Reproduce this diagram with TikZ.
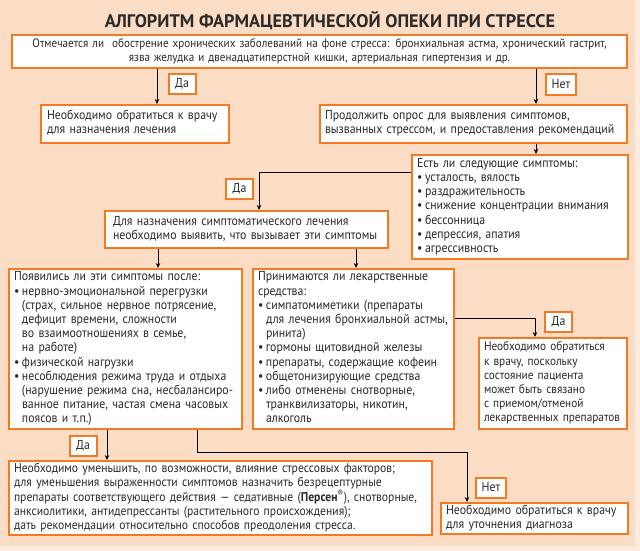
\documentclass[tikz,border=0pt]{standalone}
\usepackage{fontspec}
\setmainfont[FakeStretch=0.91]{PT Sans}
\newfontfamily\titlef{PT Sans}
\usetikzlibrary{arrows.meta,calc}
\definecolor{peach}{HTML}{FBDCC4}
\definecolor{outerc}{HTML}{FCEBDF}
\definecolor{orng}{HTML}{F47920}
\definecolor{ink}{HTML}{2A2A2A}
\newcommand{\bu}{\makebox[8pt][l]{•}}
\newcommand{\ind}{\hspace*{8pt}}
\newcommand{\tbl}[1]{\begin{tabular}{@{}l@{}}#1\end{tabular}}
\newcommand{\tbc}[1]{\begin{tabular}{@{}c@{}}#1\end{tabular}}
\begin{document}
\begin{tikzpicture}[x=1pt,y=-1pt,
  box/.style={draw=orng, line width=2pt, fill=white, inner xsep=5pt, inner ysep=1pt,
    font=\fontsize{13}{14.2}\selectfont, text=ink, align=left},
  lbl/.style={draw=orng, line width=2pt, fill=white, minimum height=20pt, inner sep=0pt,
    font=\fontsize{13}{14}\selectfont, text=ink},
  arr/.style={draw=black, line width=1pt, -{Stealth[length=5pt,width=4.5pt]}}]
\fill[outerc] (0,0) rectangle (640,551);
\fill[peach] (0,0) rectangle (635,546);
\useasboundingbox (0,0) rectangle (640,551);

\node[font=\titlef\fontsize{18.2}{20}\selectfont\bfseries, text=ink] (title) at (330,21)
  {АЛГОРИТМ ФАРМАЦЕВТИЧЕСКОЙ ОПЕКИ ПРИ СТРЕССЕ};

\node[box, align=center, minimum width=615pt, minimum height=33pt, text width=605pt,
  font=\fontsize{12.2}{14.2}\selectfont] (top) at (319.5,51.5)
  {\tbc{Отмечается ли~ обострение хронических заболеваний на фоне стресса: бронхиальная астма, хронический гастрит,\\
   язва желудка и двенадцатиперстной кишки, артериальная гипертензия и др.}};

\node[box, minimum width=188pt, minimum height=38pt, text width=176pt, inner xsep=6pt] (left1) at (135,124)
  {\tbl{Необходимо обратиться к врачу\\для назначения лечения}};
\node[box, minimum width=307pt, minimum height=38pt, text width=297pt] (right1) at (473.5,124)
  {\tbl{Продолжить опрос для выявления симптомов,\\вызванных стрессом, и предоставления рекомендаций}};

\node[box, minimum width=216pt, minimum height=104pt, text width=206pt] (est) at (520,207)
  {\tbl{Есть ли следующие симптомы:\\
   \bu усталость, вялость\\
   \bu раздражительность\\
   \bu снижение концентрации внимания\\
   \bu бессонница\\
   \bu депрессия, апатия\\
   \bu агрессивность}};

\node[box, minimum width=283pt, minimum height=37pt, text width=267pt, inner xsep=8pt] (dlya) at (246.5,229.5)
  {\tbl{Для назначения симптоматического лечения\\необходимо выявить, что вызывает эти симптомы}};

\node[box, minimum width=233pt, minimum height=160pt, text width=223pt] (poyav) at (125.5,349)
  {\tbl{Появились ли эти симптомы после:\\
   \bu нервно-эмоциональной перегрузки\\
   \ind (страх, сильное нервное потрясение,\\
   \ind дефицит времени, сложности\\
   \ind во взаимоотношениях в семье,\\
   \ind на работе)\\
   \bu физической нагрузки\\
   \bu несоблюдения режима труда и отдыха\\
   \ind (нарушение режима сна, несбалансиро-\\
   \ind ванное питание, частая смена часовых\\
   \ind поясов и т.п.)}};

\node[box, minimum width=201pt, minimum height=160pt, text width=191pt] (prin) at (353.5,349)
  {\tbl{Принимаются ли лекарственные\\
   средства:\\
   \bu симпатомиметики (препараты\\
   \ind для лечения бронхиальной астмы,\\
   \ind ринита)\\
   \bu гормоны щитовидной железы\\
   \bu препараты, содержащие кофеин\\
   \bu общетонизирующие средства\\
   \bu либо отменены снотворные,\\
   \ind транквилизаторы, никотин,\\
   \ind алкоголь}};

\node[box, minimum width=148pt, minimum height=91pt, text width=138pt, inner xsep=5pt,
  font=\fontsize{12.4}{14.2}\selectfont] (right3) at (553,383.5)
  {\tbl{Необходимо обратиться\\к врачу, поскольку\\состояние пациента\\может быть связано\\с приемом/отменой\\лекарственных препаратов}};

\node[box, minimum width=423pt, minimum height=72pt, text width=413pt,
  font=\fontsize{12.8}{14.2}\selectfont] (botl) at (220.5,498)
  {\tbl{Необходимо уменьшить, по возможности, влияние стрессовых факторов;\\
   для уменьшения выраженности симптомов назначить безрецептурные\\
   препараты соответствующего действия — седативные (\textbf{Персен}\textsuperscript{®}), снотворные,\\
   анксиолитики, антидепрессанты (растительного происхождения);\\
   дать рекомендации относительно способов преодоления стресса.}};

\node[box, minimum width=187pt, minimum height=31pt, text width=177pt, inner ysep=0pt] (botr) at (534.5,518.5)
  {\tbl{Необходимо обратиться к врачу\\для уточнения диагноза}};

% labels
\node[lbl, minimum width=27pt] (da1) at (182,84) {Да};
\node[lbl, minimum width=30pt] (net1) at (561,84.5) {Нет};
\node[lbl, minimum width=27pt] (da2) at (239.5,189) {Да};
\node[lbl, minimum width=27pt] (da3) at (558.5,322) {Да};
\node[lbl, minimum width=27pt] (da4) at (83,446) {Да};
\node[lbl, minimum width=30pt] (net2) at (491,487.5) {Нет};

% coordinates for connector x positions
\coordinate (x1) at (157,0);
\coordinate (x2) at (536,0);
\coordinate (x3) at (259,172);
\coordinate (x4) at (158,0);
\coordinate (x5) at (356,0);
\coordinate (x6) at (535,318);
\coordinate (x7) at (107,0);
\coordinate (x8) at (197,452);
\coordinate (x9) at (467,452);

\draw[arr] (top.south -| x1) -- (left1.north -| x1);
\draw[arr] (top.south -| x2) -- (right1.north -| x2);
\draw[arr] (right1.south -| x2) -- (est.north -| x2);
\draw[arr] (est.west |- x3) -- (x3) -- (dlya.north -| x3);
\draw[arr] (dlya.south -| x4) -- (poyav.north -| x4);
\draw[arr] (dlya.south -| x5) -- (prin.north -| x5);
\draw[arr] (prin.east |- x6) -- (x6) -- (right3.north -| x6);
\draw[arr] (poyav.south -| x7) -- (botl.north -| x7);
\draw[arr] (poyav.south -| x8) -- (x8) -- (x9) -- (botr.north -| x9);
\end{tikzpicture}
\end{document}
